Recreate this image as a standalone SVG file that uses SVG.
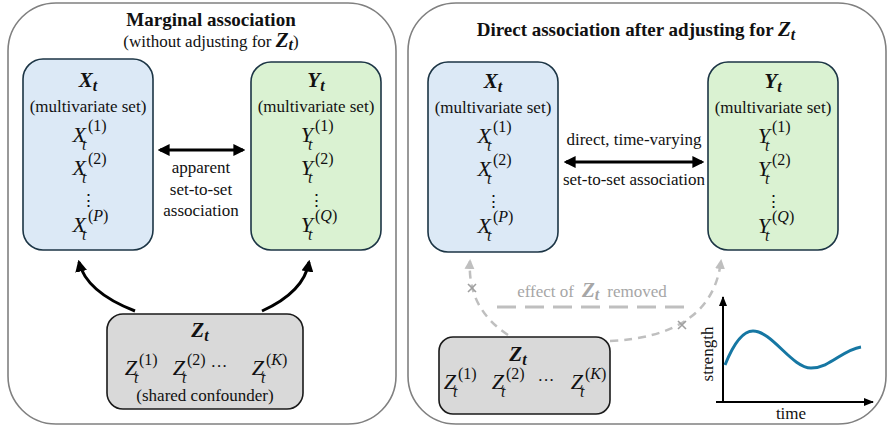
<svg xmlns="http://www.w3.org/2000/svg" width="888" height="429" viewBox="0 0 888 429" font-family="'Liberation Serif', 'Times New Roman', serif">
<style>
text{font-family:"Liberation Serif","Times New Roman",serif;fill:#111}
.t17{font-size:17px}
.title{font-size:19px;font-weight:bold}
.m{font-style:italic;font-size:22px}
.bi{font-style:italic;font-weight:bold;font-size:21px}
.sub{font-style:italic;font-size:16px}
.sup{font-size:16px}
.panel{fill:#fff;stroke:#808080;stroke-width:1.6}
.xb{fill:#dce9f6;stroke:#1c3545;stroke-width:1.6}
.yb{fill:#daf2d2;stroke:#1c3545;stroke-width:1.6}
.zb{fill:#d9d9d9;stroke:#1a1a1a;stroke-width:1.6}
.blk{fill:none;stroke:#000;stroke-width:3}
.gd{fill:none;stroke:#bfbfbf;stroke-width:2.5;stroke-dasharray:8 6}
.gx{stroke:#a0a0a0;stroke-width:1.6}
.gray{fill:#a6a6a6}
</style>
<defs>
<marker id="ah" viewBox="0 0 10 10" refX="8" refY="5" markerWidth="4" markerHeight="4" orient="auto-start-reverse"><path d="M0,0 L10,5 L0,10 z" fill="#000"/></marker>
<marker id="ahg" viewBox="0 0 10 10" refX="8" refY="5" markerWidth="4" markerHeight="4" orient="auto"><path d="M0,0 L10,5 L0,10 z" fill="#bfbfbf"/></marker>
<marker id="aha" viewBox="0 0 10 10" refX="9" refY="5" markerWidth="5" markerHeight="5" orient="auto"><path d="M0,1 L10,5 L0,9 z" fill="#000"/></marker>
</defs>

<g id="panel-left">
<rect class="panel" x="8" y="3" width="388" height="421" rx="48"/>
<text class="title" x="211" y="26" text-anchor="middle">Marginal association</text>
<text class="t17" x="211" y="47" text-anchor="middle">(without adjusting for <tspan class="bi" font-size="19">Z</tspan><tspan class="sub" font-weight="bold" font-size="14" dy="3">t</tspan><tspan dy="-3">)</tspan></text>
</g>

<g id="panel-right">
<rect class="panel" x="408" y="3" width="478" height="421" rx="48"/>
<text class="title" x="636" y="36" text-anchor="middle" font-size="19.5">Direct association after adjusting for <tspan class="bi" font-size="20">Z</tspan><tspan class="sub" font-weight="bold" font-size="15" dy="4">t</tspan></text>
</g>

<g id="X-left">
<rect class="xb" x="23" y="59" width="130" height="191" rx="20"/>
<text x="88" y="87" text-anchor="middle"><tspan class="bi">X</tspan><tspan class="sub" font-weight="bold" dy="4">t</tspan></text>
<text class="t17" x="88" y="112" text-anchor="middle">(multivariate set)</text>
<text class="m" x="86" y="142" text-anchor="end">X</text><text class="sub" x="82" y="150">t</text><text class="sup" x="88" y="131">(1)</text>
<text class="m" x="86" y="175" text-anchor="end">X</text><text class="sub" x="82" y="183">t</text><text class="sup" x="88" y="164">(2)</text>
<text class="t17" x="88" y="206" text-anchor="middle" font-size="19">⋮</text>
<text class="m" x="86" y="232" text-anchor="end">X</text><text class="sub" x="82" y="240">t</text><text class="sup" x="88" y="221">(<tspan font-style="italic">P</tspan>)</text>
</g>

<g id="Y-left">
<rect class="yb" x="251" y="62" width="130" height="188" rx="20"/>
<text x="316" y="87" text-anchor="middle"><tspan class="bi">Y</tspan><tspan class="sub" font-weight="bold" dy="4">t</tspan></text>
<text class="t17" x="316" y="112" text-anchor="middle">(multivariate set)</text>
<text class="m" x="313" y="142" text-anchor="end">Y</text><text class="sub" x="308" y="150">t</text><text class="sup" x="315" y="131">(1)</text>
<text class="m" x="313" y="175" text-anchor="end">Y</text><text class="sub" x="308" y="183">t</text><text class="sup" x="315" y="164">(2)</text>
<text class="t17" x="316" y="206" text-anchor="middle" font-size="19">⋮</text>
<text class="m" x="313" y="232" text-anchor="end">Y</text><text class="sub" x="308" y="240">t</text><text class="sup" x="315" y="221">(<tspan font-style="italic">Q</tspan>)</text>
</g>

<g id="Z-left">
<rect class="zb" x="107" y="314" width="196" height="95" rx="16"/>
<text x="200" y="337" text-anchor="middle"><tspan class="bi">Z</tspan><tspan class="sub" font-weight="bold" dy="4">t</tspan></text>
<text class="m" x="137" y="375" text-anchor="end">Z</text><text class="sub" x="134" y="383">t</text><text class="sup" x="139" y="365">(1)</text>
<text class="m" x="185" y="375" text-anchor="end">Z</text><text class="sub" x="182" y="383">t</text><text class="sup" x="187" y="365">(2)</text>
<text class="t17" x="219" y="372" text-anchor="middle">···</text>
<text class="m" x="264" y="375" text-anchor="end">Z</text><text class="sub" x="261" y="383">t</text><text class="sup" x="266" y="365">(<tspan font-style="italic">K</tspan>)</text>
<text class="t17" x="205" y="401" text-anchor="middle">(shared confounder)</text>
</g>

<g id="X-right">
<rect class="xb" x="428" y="62" width="130" height="190" rx="20"/>
<text x="493" y="88" text-anchor="middle"><tspan class="bi">X</tspan><tspan class="sub" font-weight="bold" dy="4">t</tspan></text>
<text class="t17" x="493" y="113" text-anchor="middle">(multivariate set)</text>
<text class="m" x="491" y="143" text-anchor="end">X</text><text class="sub" x="487" y="151">t</text><text class="sup" x="493" y="132">(1)</text>
<text class="m" x="491" y="176" text-anchor="end">X</text><text class="sub" x="487" y="184">t</text><text class="sup" x="493" y="165">(2)</text>
<text class="t17" x="493" y="207" text-anchor="middle" font-size="19">⋮</text>
<text class="m" x="491" y="233" text-anchor="end">X</text><text class="sub" x="487" y="241">t</text><text class="sup" x="493" y="222">(<tspan font-style="italic">P</tspan>)</text>
</g>

<g id="Y-right">
<rect class="yb" x="708" y="62" width="130" height="188" rx="20"/>
<text x="773" y="88" text-anchor="middle"><tspan class="bi">Y</tspan><tspan class="sub" font-weight="bold" dy="4">t</tspan></text>
<text class="t17" x="773" y="113" text-anchor="middle">(multivariate set)</text>
<text class="m" x="770" y="143" text-anchor="end">Y</text><text class="sub" x="765" y="151">t</text><text class="sup" x="772" y="132">(1)</text>
<text class="m" x="770" y="176" text-anchor="end">Y</text><text class="sub" x="765" y="184">t</text><text class="sup" x="772" y="165">(2)</text>
<text class="t17" x="773" y="207" text-anchor="middle" font-size="19">⋮</text>
<text class="m" x="770" y="233" text-anchor="end">Y</text><text class="sub" x="765" y="241">t</text><text class="sup" x="772" y="222">(<tspan font-style="italic">Q</tspan>)</text>
</g>

<g id="Z-right">
<rect class="zb" x="439" y="337" width="171" height="77" rx="14"/>
<text x="518" y="361" text-anchor="middle"><tspan class="bi">Z</tspan><tspan class="sub" font-weight="bold" dy="4">t</tspan></text>
<text class="m" x="456" y="389" text-anchor="end">Z</text><text class="sub" x="453" y="397">t</text><text class="sup" x="458" y="379">(1)</text>
<text class="m" x="504" y="389" text-anchor="end">Z</text><text class="sub" x="501" y="397">t</text><text class="sup" x="506" y="379">(2)</text>
<text class="t17" x="546" y="386" text-anchor="middle">···</text>
<text class="m" x="583" y="389" text-anchor="end">Z</text><text class="sub" x="580" y="397">t</text><text class="sup" x="585" y="379">(<tspan font-style="italic">K</tspan>)</text>
</g>

<g id="chart">
<path d="M723,402 L723,297" fill="none" stroke="#000" stroke-width="2" marker-end="url(#aha)"/>
<path d="M716,402 L873,402" fill="none" stroke="#000" stroke-width="2" marker-end="url(#aha)"/>
<path d="M725,365 C733,345 742,331 753,331 C772,331 792,368 811,368 C830,368 842,350 861,347" fill="none" stroke="#1677a3" stroke-width="3"/>
<text class="t17" transform="translate(713,354) rotate(-90)" text-anchor="middle">strength</text>
<text class="t17" x="791" y="419" text-anchor="middle">time</text>
</g>

<g id="connectors">
<path class="blk" d="M160,150 L243,150" stroke-width="4" marker-start="url(#ah)" marker-end="url(#ah)"/>
<text class="t17" x="201" y="173" text-anchor="middle">apparent</text>
<text class="t17" x="201" y="195" text-anchor="middle">set-to-set</text>
<text class="t17" x="201" y="216" text-anchor="middle">association</text>
<path class="blk" d="M135,311 Q86,292 79,262" marker-end="url(#ah)"/>
<path class="blk" d="M262,311 Q304,292 309,262" marker-end="url(#ah)"/>

<path class="blk" d="M566,162 L702,162" stroke-width="4" marker-start="url(#ah)" marker-end="url(#ah)"/>
<text class="t17" x="634" y="145" text-anchor="middle" font-size="16.5">direct, time-varying</text>
<text class="t17" x="634" y="185" text-anchor="middle" font-size="16.5">set-to-set association</text>

<path class="gd" d="M508,335 Q467,308 470,261" marker-end="url(#ahg)"/>
<path class="gd" d="M610,341 Q712,336 721,261" marker-end="url(#ahg)"/>
<path d="M497,307 L690,307" fill="none" stroke="#bfbfbf" stroke-width="3" stroke-dasharray="19 9"/>
<path class="gx" d="M468,284 L476,292 M476,284 L468,292"/>
<path class="gx" d="M678,321 L686,329 M686,321 L678,329"/>
<text class="t17 gray" x="592" y="297" text-anchor="middle"><tspan class="gray">effect of</tspan><tspan class="bi gray" font-size="19" dx="8">Z</tspan><tspan class="sub gray" font-weight="bold" font-size="14" dy="3">t</tspan><tspan class="gray" dx="8" dy="-3">removed</tspan></text>
</g>
</svg>
